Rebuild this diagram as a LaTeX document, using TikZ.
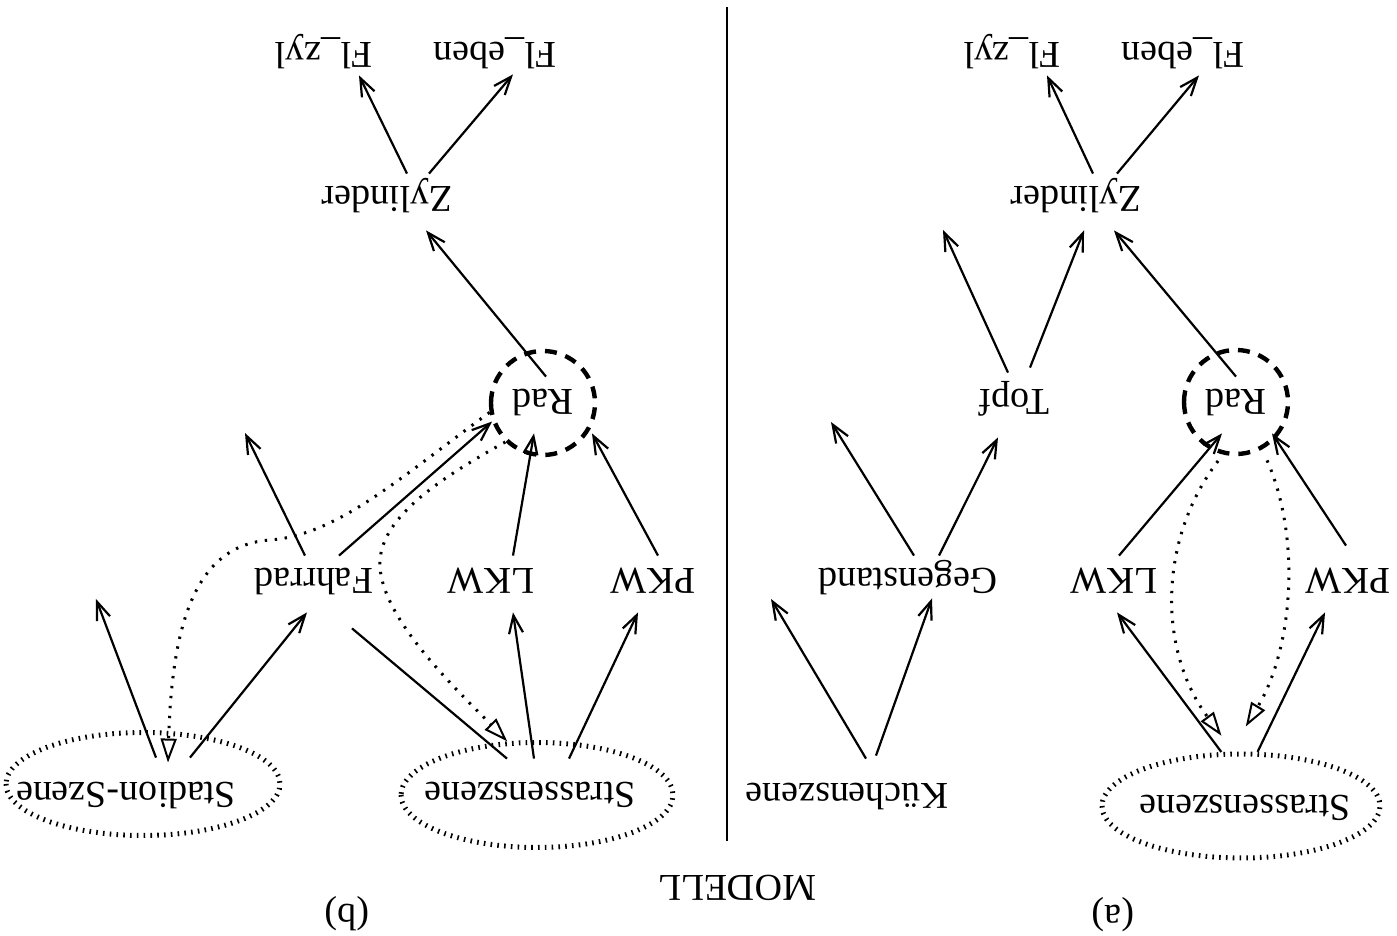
\documentclass[tikz,border=0pt]{standalone}
\usepackage{fontspec}
\setmainfont{Liberation Serif}
\usetikzlibrary{arrows.meta,shapes.geometric}

\begin{document}
\begin{tikzpicture}[x=0.5pt,y=0.5pt,
  lbl/.style={anchor=base,inner xsep=3pt,inner ysep=2.5pt,text height=19pt,text depth=4pt,font=\fontsize{19}{22}\selectfont},
  arr/.style={line width=1.1pt,-{Straight Barb[length=9pt,width=7pt]}},
  partof/.style={line width=1.5pt,dash pattern=on 1.2pt off 3.8pt,-{Triangle[open,length=12pt,width=8pt,line width=1pt]}},
  ring/.style={ellipse,draw,line width=2.5pt,dash pattern=on 0.8pt off 2.6pt,inner sep=0pt},
  radring/.style={circle,draw,line width=2.2pt,dash pattern=on 6pt off 4.5pt,minimum size=52pt,inner sep=0pt}]
\useasboundingbox (0,0) rectangle (1397,936);
% whole diagram is printed upside down
\begin{scope}[rotate around={180:(698.5,468)},transform shape]

% Text Node (a)
\node[lbl] (aflzyl) at (385,43) {Fl\_zyl};
\node[lbl] (afleben) at (214,43) {Fl\_eben};
\node[lbl] (azyl) at (321,187) {Zylinder};
\node[lbl] (atopf) at (383,390) {Topf};
\node[lbl] (arad) at (161,390) {Rad};
\node[lbl] (ageg) at (489,569) {Gegenstand};
\node[lbl] (alkw) at (283,569) {LKW};
\node[lbl] (apkw) at (49,569) {PKW};
\node[lbl] (akueche) at (550,784) {Küchenszene};
\node[lbl] (astrassen) at (152,796) {Strassenszene};
\node[lbl] (alabel) at (284,906) {(a)};
% Shape: Circle, Ellipse (a)
\node[radring] (aradc) at (161,402) {};
\node[ring,minimum width=139pt,minimum height=52pt] (astrassenring) at (156,806) {};
\coordinate (atopfx) at (454,230);
\coordinate (agegx) at (566,422);
\coordinate (akuechex) at (626,599);

%Straight Lines (a)
\draw[arr] ([xshift=-8.5pt]azyl.south) -- ([xshift=-17.5pt,yshift=-5.5pt]aflzyl.north);
\draw[arr] ([xshift=-20.5pt]azyl.south) -- ([xshift=-8pt,yshift=-5.5pt]afleben.north);
\draw[arr] ([xshift=-8pt,yshift=-4.5pt]atopf.south) -- ([xshift=-4pt]azyl.north);
\draw[arr] ([xshift=3pt,yshift=-2pt]atopf.south) -- (atopfx);
\draw[arr] (arad.south) -- ([xshift=-19pt]azyl.north);
\draw[arr] ([xshift=-15.5pt]ageg.south) -- ([xshift=8pt,yshift=2pt]atopf.north);
\draw[arr] ([xshift=-3pt]ageg.south) -- (agegx);
\draw[arr] ([xshift=-2.5pt]alkw.south) -- ([xshift=7pt]arad.north);
\draw[arr] ([xshift=1pt,yshift=-5pt]apkw.south) -- ([xshift=-18pt]arad.north);
\draw[arr] ([xshift=-14.5pt,yshift=-7.5pt]akueche.south) -- ([xshift=-12pt,yshift=-7pt]ageg.north);
\draw[arr] ([xshift=-9.5pt,yshift=-6pt]akueche.south) -- (akuechex);
\draw[arr] (astrassenring.-70) -- ([xshift=-1.5pt]alkw.north);
\draw[arr] (astrassenring.-107) -- ([xshift=11.5pt]apkw.north);
%Curves (a)
\draw[partof,shorten <=4pt] (aradc.76) .. controls (239,540) and (239,650) .. ([xshift=2.5pt,yshift=-8pt]astrassenring.-75);
\draw[partof,shorten <=6pt] (aradc.119) .. controls (95,540) and (105,650) .. ([yshift=-12.5pt]astrassenring.-95);

% Text Node (b)
\node[lbl] (bflzyl) at (1073,43) {Fl\_zyl};
\node[lbl] (bfleben) at (902,43) {Fl\_eben};
\node[lbl] (bzyl) at (1010,187) {Zylinder};
\node[lbl] (brad) at (854,390) {Rad};
\node[lbl] (bfahr) at (1083,569) {Fahrrad};
\node[lbl] (blkw) at (906,569) {LKW};
\node[lbl] (bpkw) at (744,569) {PKW};
\node[lbl] (bstad) at (1271,783) {Stadion-Szene};
\node[lbl] (bstrassen) at (867,783) {Strassenszene};
\node[lbl] (blabel) at (1050,905) {(b)};
\node[lbl] (modell) at (660,876) {MODELL};
% Shape: Circle, Ellipse (b)
\node[radring] (bradc) at (854,403) {};
\node[ring,minimum width=137pt,minimum height=51.5pt] (bstadring) at (1254,784) {};
\node[ring,minimum width=136pt,minimum height=52.5pt] (bstrassenring) at (860,795) {};
\coordinate (bfahrx) at (1152,433);
\coordinate (bstadx) at (1301,599);
\coordinate (septop) at (670,841);
\coordinate (sepbot) at (670,7);

%Straight Lines (b)
\draw[line width=0.9pt] (septop) -- (sepbot);
\draw[arr] ([xshift=-10pt]bzyl.south) -- ([xshift=-17.5pt,yshift=-5.5pt]bflzyl.north);
\draw[arr] ([xshift=-21pt]bzyl.south) -- ([xshift=-9pt,yshift=-6pt]bfleben.north);
\draw[arr] ([xshift=-1.5pt]brad.south) -- ([xshift=-19.5pt]bzyl.north);
\draw[arr] ([xshift=-2.5pt]bpkw.south) -- ([xshift=-24.5pt]brad.north);
\draw[arr] ([xshift=-11pt]blkw.south) -- ([xshift=4.5pt]brad.north);
\draw[arr] ([xshift=-12.5pt]bfahr.south) -- (bradc.20);
\draw[arr] ([xshift=4.5pt]bfahr.south) -- (bfahrx);
\draw[arr] ([xshift=-32pt,yshift=-6pt]bstad.south) -- ([xshift=3.5pt]bfahr.north);
\draw[arr] ([xshift=-15pt,yshift=-6pt]bstad.south) -- (bstadx);
\draw[arr] ([xshift=-2pt,yshift=-5.5pt]bstrassen.south) -- ([xshift=-11pt]blkw.north);
\draw[arr] ([xshift=-19.5pt,yshift=-5.5pt]bstrassen.south) -- ([xshift=7.5pt]bpkw.north);
\draw[line width=1.1pt] ([xshift=11.5pt,yshift=-5.5pt]bstrassen.south) -- ([xshift=-19pt,yshift=8pt]bfahr.north);
%Curves (b)
\draw[partof] (bradc.10) .. controls (1000,480) and (1060,535) .. (1127,540) .. controls (1200,545) and (1225,620) .. ([xshift=-21pt,yshift=-3.5pt]bstad.south);
\draw[partof] (bradc.46) .. controls (960,480) and (1020,520) .. (1017,567) .. controls (1014,620) and (940,690) .. (bstrassenring.-61);

\end{scope}
\end{tikzpicture}
\end{document}
